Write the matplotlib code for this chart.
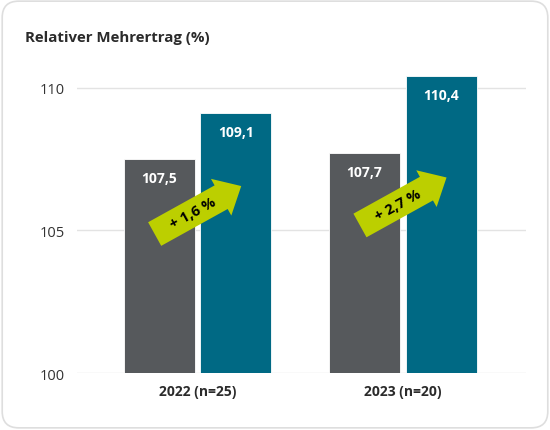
import matplotlib.pyplot as plt
import matplotlib.transforms as mtransforms
from matplotlib.patches import Polygon, FancyBboxPatch
import numpy as np

plt.rcParams['font.family'] = ['Open Sans', 'DejaVu Sans']

# data
groups = ["2022 (n=25)", "2023 (n=20)"]
before = [107.5, 107.7]
after = [109.1, 110.4]
gains = ["+ 1,6 %", "+ 2,7 %"]
arrow_y = [105.7, 106.0]

gray = "#56595c"
teal = "#006984"
lime = "#bccf00"

fig = plt.figure(figsize=(5.5, 4.31), dpi=100)
fig.patch.set_facecolor("white")

# rounded card frame
card = FancyBboxPatch((0.004, 0.005), 0.992, 0.99, boxstyle="round,pad=0,rounding_size=0.03",
                      transform=fig.transFigure, facecolor="white", edgecolor="#dedede",
                      linewidth=1.2, mutation_aspect=550 / 431, zorder=-10)
fig.patches.append(card)

ax = fig.add_axes([77 / 550, (431 - 374) / 431, 449 / 550, (374 - 60) / 431])
ax.set_facecolor("none")

x = np.arange(len(groups))
w = 0.345
off = 0.187
ax.bar(x - off, [b - 100 for b in before], w, bottom=100, color=gray, edgecolor="white", linewidth=0.6, zorder=2)
ax.bar(x + off, [a - 100 for a in after], w, bottom=100, color=teal, edgecolor="white", linewidth=0.6, zorder=2)

for xi, b, a in zip(x, before, after):
    ax.text(xi - off, b - 0.42, f"{b:.1f}".replace(".", ","), ha="center", va="top",
            color="white", fontsize=10, fontweight="bold", zorder=4)
    ax.text(xi + off, a - 0.42, f"{a:.1f}".replace(".", ","), ha="center", va="top",
            color="white", fontsize=10, fontweight="bold", zorder=4)

# arrows (shape in pixels, rotated, anchored at data point)
shape = [(-49, -13.5), (27, -13.5), (27, -21), (50, 0), (27, 21), (27, 13.5), (-49, 13.5)]
angle = 29
for xi, ay, txt in zip(x, arrow_y, gains):
    tr = mtransforms.Affine2D().rotate_deg(angle) + mtransforms.ScaledTranslation(xi, ay, ax.transData)
    ax.add_patch(Polygon(shape, closed=True, transform=tr, facecolor=lime, edgecolor="none", zorder=3))
    ax.text(-5, 0, txt, transform=tr, rotation=angle, rotation_mode="anchor", ha="center", va="center",
            fontsize=10.5, fontweight="bold", color="black", zorder=4)

ax.set_xlim(-0.587, 1.6)
ax.set_ylim(100, 111.0)
ax.set_yticks([100, 105, 110])
ax.set_yticklabels(["100", "105", "110"])
ax.set_xticks(x)
ax.set_xticklabels(groups, fontweight="bold", fontsize=10, color="#2b2b2b")
ax.tick_params(axis="y", length=0, pad=9, labelsize=10.5, labelcolor="#333333")
ax.tick_params(axis="x", length=0, pad=8)
ax.grid(axis="y", color="#e3e3e3", linewidth=1, zorder=0)
ax.set_axisbelow(True)
for s in ax.spines.values():
    s.set_visible(False)

fig.text(25 / 550, 1 - 38 / 431, "Relativer Mehrertrag (%)", fontsize=10.8, fontweight="bold",
         color="#2b2b2b", ha="left", va="center")

fig.savefig("out.png", dpi=100)
